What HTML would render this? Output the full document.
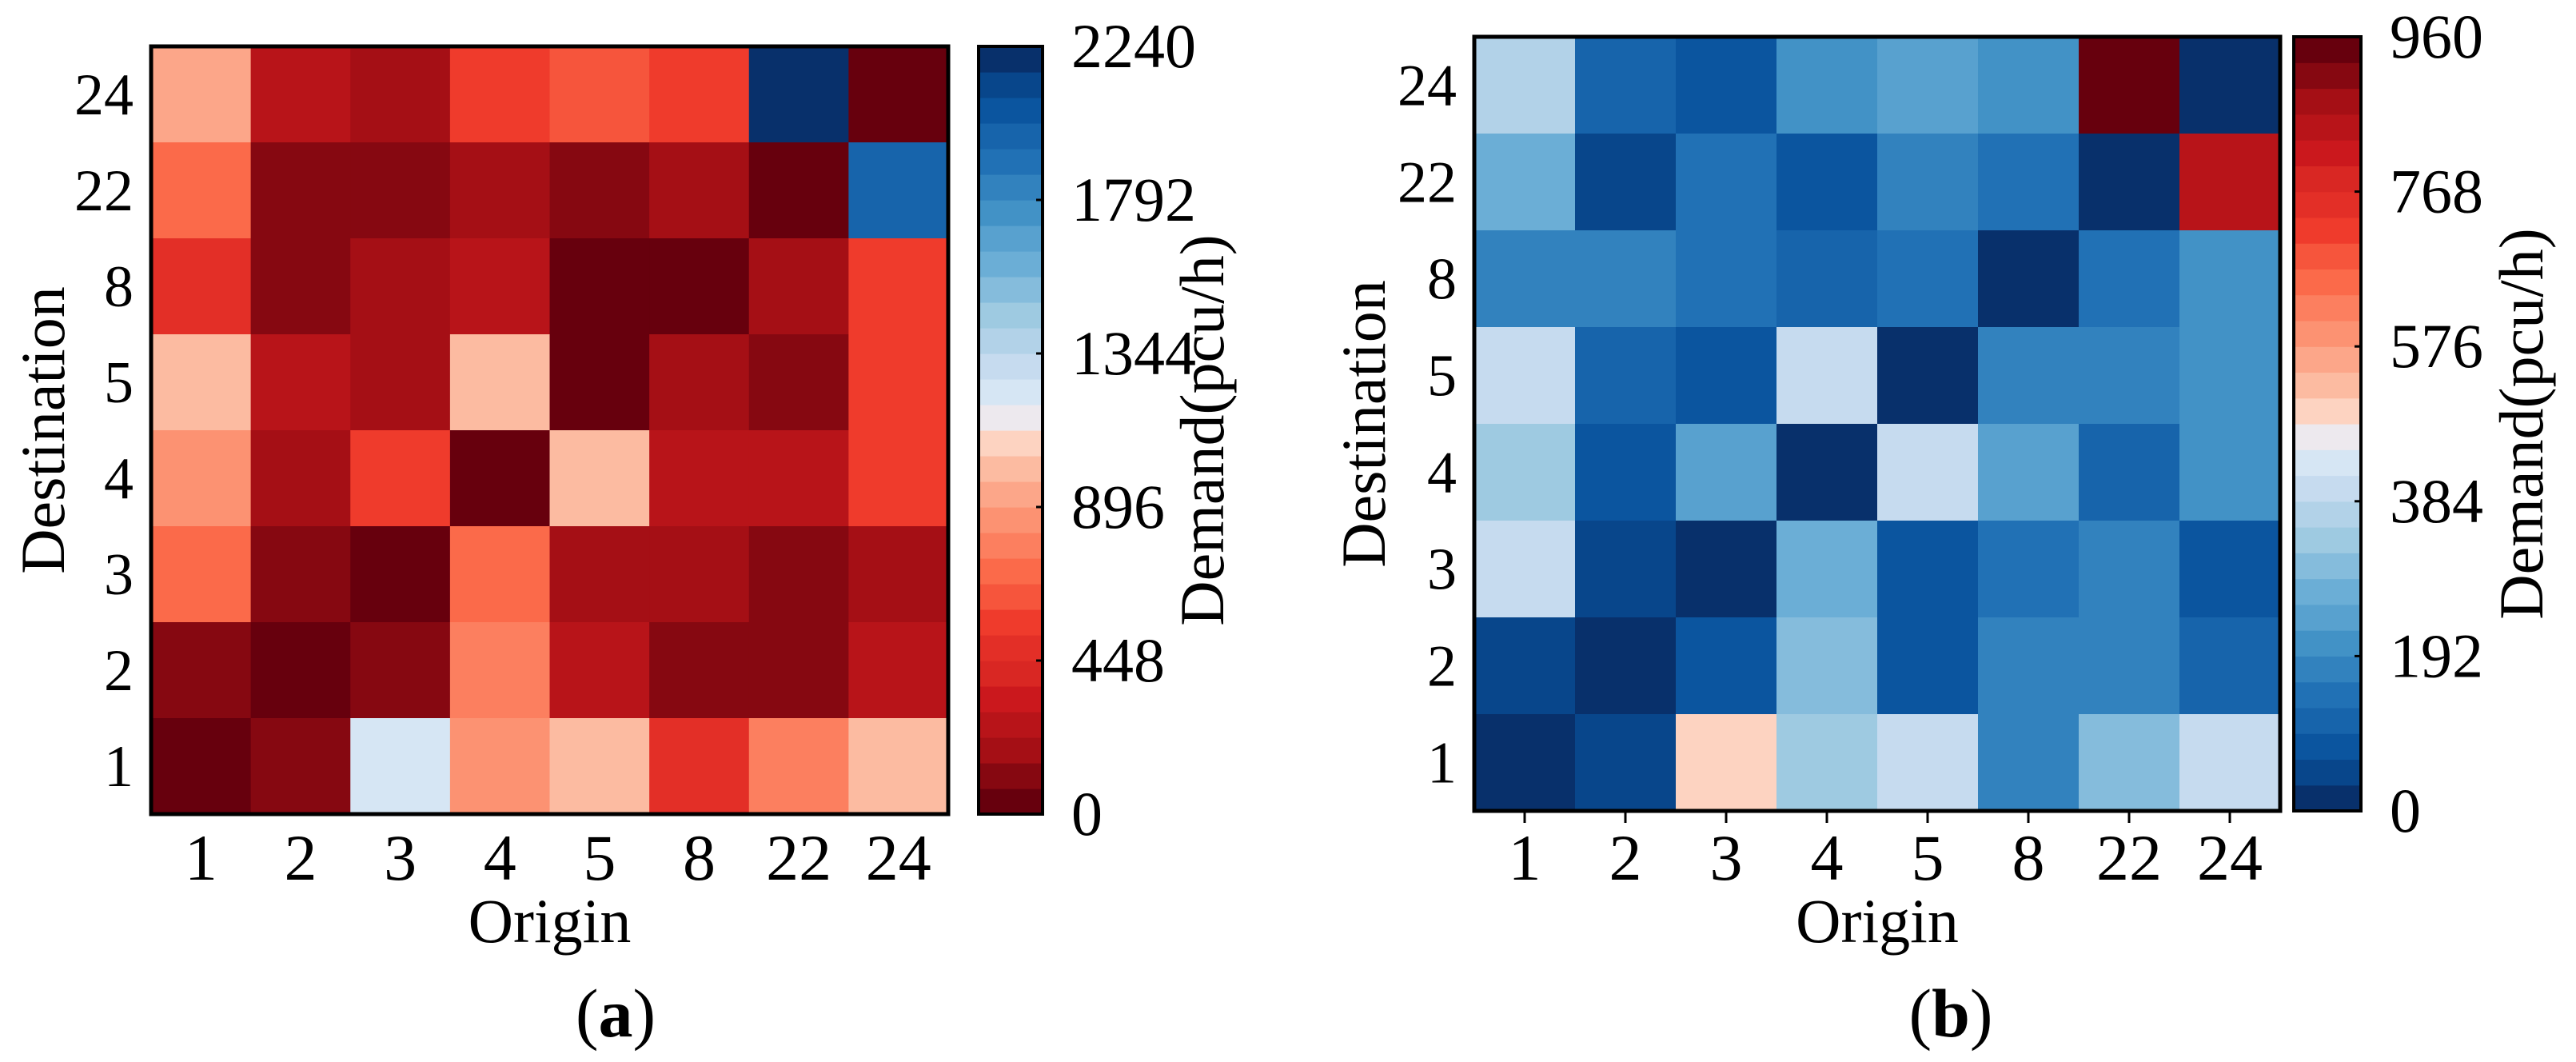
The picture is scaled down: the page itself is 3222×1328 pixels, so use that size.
<!DOCTYPE html>
<html><head><meta charset="utf-8">
<style>
html,body{margin:0;padding:0;background:#fff;}
svg{display:block;font-family:"Liberation Serif",serif;}
</style></head>
<body>
<svg id="fig" width="3222" height="1328" viewBox="0 0 3222 1328" xmlns="http://www.w3.org/2000/svg"></svg>
<script>
const categories = ["1","2","3","4","5","8","22","24"];
const rowsTopDown = ["24","22","8","5","4","3","2","1"];
// band indices (0..29); values = (band+0.5)*step
const bandsA = [
 [12,3,2,7,8,7,29,0],
 [9,1,1,2,1,2,0,26],
 [6,1,2,3,0,0,2,7],
 [13,3,2,13,0,2,1,7],
 [11,2,7,0,13,3,3,7],
 [9,1,0,9,2,2,1,2],
 [1,0,1,10,3,1,1,3],
 [0,1,16,11,13,6,10,13]
];
const bandsB = [
 [11,3,2,6,7,6,29,0],
 [8,1,4,2,5,4,0,26],
 [5,5,4,3,4,0,4,6],
 [12,3,2,12,0,5,5,6],
 [10,2,7,0,12,7,3,6],
 [12,1,0,8,2,4,5,2],
 [1,0,2,9,2,5,5,3],
 [0,1,15,10,12,5,9,12]
];
const maxA = 2240, maxB = 960;
const ticksA = [0,448,896,1344,1792,2240];
const ticksB = [0,192,384,576,768,960];
const valuesA = bandsA.map(r=>r.map(b=>(b+0.5)*maxA/30));
const valuesB = bandsB.map(r=>r.map(b=>(b+0.5)*maxB/30));

// 30-level palette: dark red -> white -> dark blue
const palette = ["#67000d","#860811","#a50f15","#b81419","#cb181d","#d92723","#e32f27","#ef3b2c","#f6553c","#fb6a4a",
 "#fc7f5f","#fc9272","#fca689","#fcbba1","#fdd3c1","#ede9ee","#d6e6f4","#c6dbef","#b2d2e8","#9ecae1",
 "#85bcdc","#6baed6","#58a1cf","#4292c6","#3282be","#2171b5","#1764ab","#0b559f","#08468b","#08306b"];
const NS="http://www.w3.org/2000/svg";
const svg=document.getElementById('fig');
function el(tag,attrs,parent,text){
  const e=document.createElementNS(NS,tag);
  for(const k in attrs) e.setAttribute(k,attrs[k]);
  if(text!==undefined) e.textContent=text;
  (parent||svg).appendChild(e); return e;
}

function panel(cfg){
  const g=el('g',{});
  
  
  const {x0,x1,y0,y1}=cfg;
  const cw=(x1-x0)/categories.length, ch=(y1-y0)/rowsTopDown.length;
  const xs=i=>x0+i*cw, ys=j=>y0+j*ch;
  const band=v=>Math.max(0,Math.min(29,Math.floor(v/cfg.max*30)));
  const bandColor=b=>palette[cfg.reverse?29-b:b];
  cfg.values.forEach((row,j)=>row.forEach((v,i)=>{
    const r=el('rect',{x:xs(i),y:ys(j),width:cw+0.6,height:ch+0.6,fill:bandColor(band(v))},g);
    
    
  }));
  const fr=el('rect',{x:x0,y:y0,width:x1-x0,height:y1-y0,fill:'none',stroke:'#000','stroke-width':5},g);
   
  categories.forEach((c,i)=>{
    const cx=xs(i)+cw/2;
    if(cfg.xticks) el('line',{x1:cx,x2:cx,y1:y1,y2:y1+15,stroke:'#000','stroke-width':3},g);
    const t=el('text',{x:cx,y:1100,'font-size':82,'text-anchor':'middle'},g,c);
     
  });
  rowsTopDown.forEach((r,j)=>{
    const t=el('text',{x:x0-22,y:ys(j)+ch/2+25,'font-size':74,'text-anchor':'end'},g,r);
     
  });
  const xt=el('text',{x:(x0+x1)/2,y:1178,'font-size':78,'text-anchor':'middle'},g,'Origin');
   
  const yt=el('text',{x:0,y:0,'font-size':78,'text-anchor':'middle',transform:`translate(${cfg.ytitleX},${(y0+y1)/2}) rotate(-90)`},g,'Destination');
   
  // colorbar
  const cb=el('g',{},g);
   
  const {cx0,cx1}=cfg, bh=(y1-cfg.cy0)/30;
  for(let b=0;b<30;b++){
    el('rect',{x:cx0,y:y1-(b+1)*bh,width:cx1-cx0,height:bh+0.6,fill:bandColor(b)},cb);
  }
  el('rect',{x:cx0,y:cfg.cy0,width:cx1-cx0,height:y1-cfg.cy0,fill:'none',stroke:'#000','stroke-width':4},cb);
  const vy=v=>y1-v/cfg.max*(y1-cfg.cy0);
  cfg.ticks.forEach(v=>{
    el('line',{x1:cx1-8,x2:cx1,y1:vy(v),y2:vy(v),stroke:'#000','stroke-width':3},cb);
    const t=el('text',{x:cx1+36,y:vy(v)+26,'font-size':78},cb,String(v));
     
  });
  const ct=el('text',{x:0,y:0,'font-size':78,'text-anchor':'middle',transform:`translate(${cfg.ctitleX},${(cfg.cy0+y1)/2}) rotate(-90)`},cb,'Demand(pcu/h)');
   
  const cap=el('text',{x:cfg.capX,y:1296,'font-size':86,'text-anchor':'middle'},g);
   
  el('tspan',{},cap,'(');
  el('tspan',{'font-weight':'bold'},cap,cfg.letter);
  el('tspan',{},cap,')');
}
panel({name:'panel-a-heatmap',values:valuesA,max:maxA,ticks:ticksA,reverse:false,xticks:false,
  x0:189,x1:1186,y0:58,y1:1018,cx0:1224,cx1:1304,cy0:58,
  ytitleX:80,ctitleX:1530,capX:770,letter:'a'});
panel({name:'panel-b-heatmap',values:valuesB,max:maxB,ticks:ticksB,reverse:true,xticks:true,
  x0:1844,x1:2852,y0:46,y1:1014,cx0:2869,cx1:2953,cy0:46,
  ytitleX:1732,ctitleX:3180,capX:2440,letter:'b'});
</script>
</body></html>
